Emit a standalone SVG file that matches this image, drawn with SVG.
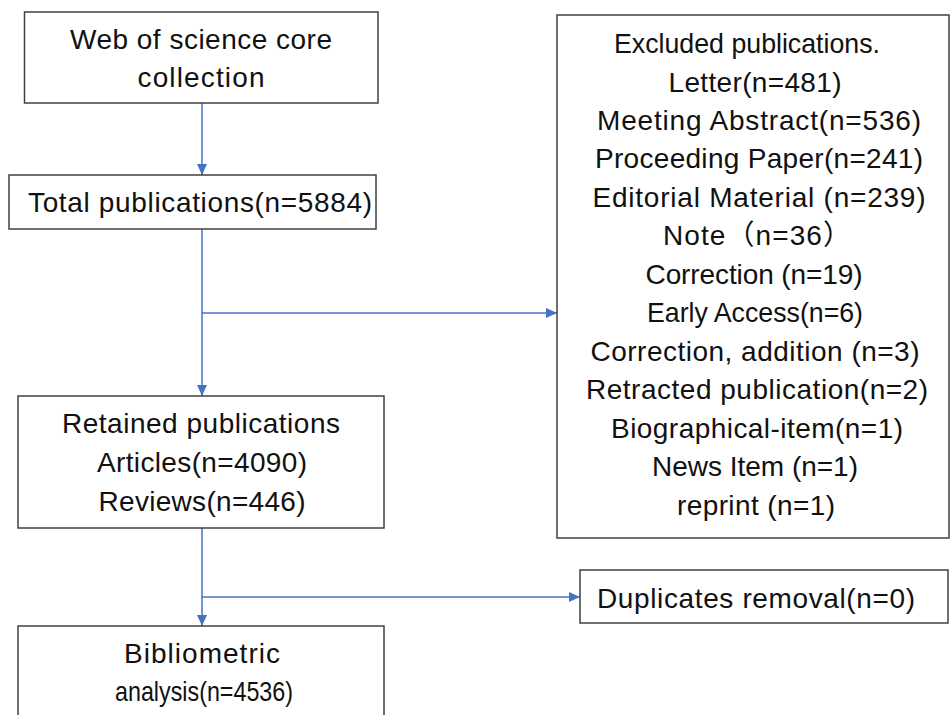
<svg xmlns="http://www.w3.org/2000/svg" width="950" height="715" viewBox="0 0 950 715">
  <style>
    .box { fill: #ffffff; stroke: #404040; stroke-width: 1.5; }
    .t { font-family: "Liberation Sans", "Noto Sans CJK SC", sans-serif; font-size: 28px; fill: #111111; text-anchor: middle; }
    .c { fill: none; stroke: #4472C4; stroke-width: 1.5; marker-end: url(#arr); }
  </style>
  <defs>
    <marker id="arr" markerUnits="userSpaceOnUse" markerWidth="11" markerHeight="10" refX="11" refY="5" orient="auto">
      <path d="M0,0 L11,5 L0,10 z" fill="#4472C4"/>
    </marker>
  </defs>
  <rect width="950" height="715" fill="#ffffff"/>

  <g id="connectors">
    <path class="c" d="M202 103 V175"/>
    <path class="c" d="M202 229 V396"/>
    <path class="c" d="M202 313 H557"/>
    <path class="c" d="M202 528 V626"/>
    <path class="c" d="M202 597 H580"/>
  </g>

  <g id="n-wos">
    <rect class="box" x="24.5" y="12" width="353.5" height="91"/>
    <text class="t" x="201" y="49" textLength="262">Web of science core</text>
    <text class="t" x="201" y="87" textLength="127">collection</text>
  </g>

  <g id="n-total">
    <rect class="box" x="9" y="175" width="367" height="54"/>
    <text class="t" x="200" y="212" textLength="344">Total publications(n=5884)</text>
  </g>

  <g id="n-retained">
    <rect class="box" x="18" y="396" width="366" height="132"/>
    <text class="t" x="201" y="433" textLength="278">Retained publications</text>
    <text class="t" x="202" y="472" textLength="210">Articles(n=4090)</text>
    <text class="t" x="202" y="511" textLength="207">Reviews(n=446)</text>
  </g>

  <g id="n-excluded">
    <rect class="box" x="557" y="15" width="392" height="523"/>
    <text class="t" x="747" y="53" textLength="266" lengthAdjust="spacingAndGlyphs">Excluded publications.</text>
    <text class="t" x="755" y="92" textLength="173">Letter(n=481)</text>
    <text class="t" x="759" y="130" textLength="324">Meeting Abstract(n=536)</text>
    <text class="t" x="759" y="168" textLength="328">Proceeding Paper(n=241)</text>
    <text class="t" x="759" y="207" textLength="333">Editorial Material (n=239)</text>
    <text class="t" x="757" y="245" textLength="188">Note（n=36）</text>
    <text class="t" x="754" y="284" textLength="217">Correction (n=19)</text>
    <text class="t" x="755" y="322" textLength="216" lengthAdjust="spacingAndGlyphs">Early Access(n=6)</text>
    <text class="t" x="755" y="361" textLength="329">Correction, addition (n=3)</text>
    <text class="t" x="757" y="399" textLength="342">Retracted publication(n=2)</text>
    <text class="t" x="757" y="438" textLength="292">Biographical-item(n=1)</text>
    <text class="t" x="755" y="476" textLength="206">News Item (n=1)</text>
    <text class="t" x="756" y="515" textLength="158">reprint (n=1)</text>
  </g>

  <g id="n-duplicates">
    <rect class="box" x="580" y="570" width="368" height="53"/>
    <text class="t" x="756" y="608" textLength="318">Duplicates removal(n=0)</text>
  </g>

  <g id="n-bibliometric">
    <rect class="box" x="18" y="626" width="366" height="110"/>
    <text class="t" x="202" y="663" textLength="156">Bibliometric</text>
    <text class="t" x="204" y="701" textLength="178" lengthAdjust="spacingAndGlyphs">analysis(n=4536)</text>
  </g>
</svg>
